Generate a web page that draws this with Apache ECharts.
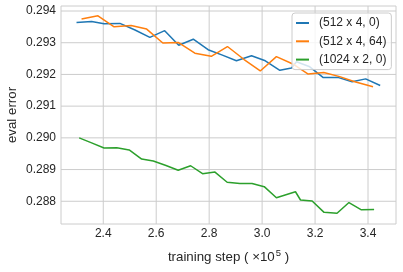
<!DOCTYPE html>
<html>
<head>
<meta charset="utf-8">
<script src="https://cdn.jsdelivr.net/npm/echarts@6/dist/echarts.min.js"></script>
<style>
html,body{margin:0;padding:0;background:#fff;}
#chart{width:403px;height:272px;}
</style>
</head>
<body>
<div id="chart"></div>
<script>
// ---- data ----
const seriesNames = ['(512 x 4, 0)', '(512 x 4, 64)', '(1024 x 2, 0)'];
const xBlue = [2.299, 2.356, 2.403, 2.463, 2.520, 2.576, 2.632, 2.685, 2.740, 2.796, 2.850, 2.903, 2.960, 3.012, 3.067, 3.111, 3.130, 3.180, 3.231, 3.289, 3.340, 3.391, 3.446];
const yBlue = [0.29364, 0.29367, 0.29360, 0.29361, 0.29340, 0.29317, 0.29338, 0.29292, 0.29311, 0.29278, 0.29261, 0.29243, 0.29259, 0.29243, 0.29213, 0.29220, 0.29240, 0.29224, 0.29190, 0.29190, 0.29177, 0.29186, 0.29165];
const xOrange = [2.318, 2.380, 2.441, 2.505, 2.564, 2.625, 2.683, 2.746, 2.808, 2.869, 2.932, 2.993, 3.054, 3.116, 3.174, 3.233, 3.293, 3.350, 3.419];
const yOrange = [0.29375, 0.29385, 0.29350, 0.29354, 0.29343, 0.29299, 0.29301, 0.29267, 0.29257, 0.29288, 0.29247, 0.29211, 0.29256, 0.29233, 0.29201, 0.29206, 0.29193, 0.29177, 0.29161];
const xGreen = [2.309, 2.356, 2.403, 2.451, 2.498, 2.545, 2.589, 2.637, 2.683, 2.730, 2.775, 2.822, 2.868, 2.916, 2.962, 3.008, 3.054, 3.126, 3.145, 3.189, 3.234, 3.283, 3.328, 3.375, 3.423];
const yGreen = [0.29000, 0.28984, 0.28968, 0.28969, 0.28962, 0.28933, 0.28927, 0.28913, 0.28898, 0.28912, 0.28887, 0.28892, 0.28860, 0.28856, 0.28856, 0.28846, 0.28811, 0.28830, 0.28804, 0.28801, 0.28765, 0.28762, 0.28796, 0.28773, 0.28774];
const xTicks = [2.4, 2.6, 2.8, 3.0, 3.2, 3.4];
const yTicks = [0.288, 0.289, 0.290, 0.291, 0.292, 0.293, 0.294];
const xRange = [2.2404, 3.5057];
const yRange = [0.287283, 0.294158];

// ---- chart ----
const FONT = '"Liberation Sans", Arial, sans-serif';
const TXT = '#262626';
const GRIDC = '#cccccc';
const colors = ['#1f77b4', '#ff7f0e', '#2ca02c'];
const zip = (xs, ys) => xs.map((x, i) => [x, ys[i]]);
const datasets = [zip(xBlue, yBlue), zip(xOrange, yOrange), zip(xGreen, yGreen)];

// grid lines drawn as plain two-point segments at the tick values
const gridSeries = xTicks.map(v => [[v, yRange[0]], [v, yRange[1]]])
  .concat(yTicks.map(v => [[xRange[0], v], [xRange[1], v]]))
  .map(d => ({
    type: 'line', data: d, symbol: 'none', silent: true, animation: false,
    z: 1, lineStyle: { color: GRIDC, width: 1 }, tooltip: { show: false }
  }));

const series = gridSeries.concat(datasets.map((d, i) => ({
  name: seriesNames[i],
  type: 'line',
  data: d,
  symbol: 'none',
  showSymbol: false,
  color: colors[i],
  lineStyle: { width: 1.5, color: colors[i] },
  z: 2,
  silent: true,
  animation: false
})));

const chart = echarts.init(document.getElementById('chart'), null, { renderer: 'canvas' });
chart.setOption({
  animation: false,
  backgroundColor: '#ffffff',
  textStyle: { fontFamily: FONT },
  grid: {
    left: 61, right: 7, top: 6, bottom: 48,
    containLabel: false, outerBoundsMode: 'none',
    show: true, borderColor: GRIDC, borderWidth: 1, backgroundColor: 'transparent'
  },
  legend: {
    data: seriesNames,
    orient: 'vertical',
    left: 292, top: 13,
    padding: [3, 5, 3, 4],
    itemGap: 4.3,
    itemWidth: 13, itemHeight: 2,
    icon: 'rect',
    backgroundColor: 'rgba(255,255,255,0.8)',
    borderColor: GRIDC, borderWidth: 1, borderRadius: 3,
    z: 10,
    textStyle: { fontFamily: FONT, fontSize: 12, color: TXT, lineHeight: 14, padding: [0, 0, 0, 5] }
  },
  xAxis: {
    type: 'value',
    min: xRange[0], max: xRange[1],
    name: '{a|training step ( ×10}{s|5}{a| )}',
    nameLocation: 'middle',
    nameGap: 24,
    nameMoveOverlap: false,
    nameTextStyle: {
      rich: {
        a: { fontFamily: FONT, fontSize: 13.3, color: TXT, verticalAlign: 'bottom', lineHeight: 16 },
        s: { fontFamily: FONT, fontSize: 9.5, color: TXT, verticalAlign: 'top', lineHeight: 16, padding: [0, 0, 0, 1] }
      }
    },
    axisLine: { show: false },
    axisTick: { show: false, customValues: xTicks },
    splitLine: { show: false },
    axisLabel: {
      customValues: xTicks,
      margin: 4,
      fontFamily: FONT, fontSize: 12, color: TXT,
      formatter: v => v.toFixed(1)
    }
  },
  yAxis: {
    type: 'value',
    min: yRange[0], max: yRange[1],
    name: 'eval error',
    nameLocation: 'middle',
    nameGap: 42,
    nameMoveOverlap: false,
    nameTextStyle: { fontFamily: FONT, fontSize: 13.3, color: TXT },
    axisLine: { show: false },
    axisTick: { show: false, customValues: yTicks },
    splitLine: { show: false },
    axisLabel: {
      customValues: yTicks,
      margin: 5,
      fontFamily: FONT, fontSize: 12, color: TXT,
      formatter: v => v.toFixed(3)
    }
  },
  series: series
});
</script>
</body>
</html>
